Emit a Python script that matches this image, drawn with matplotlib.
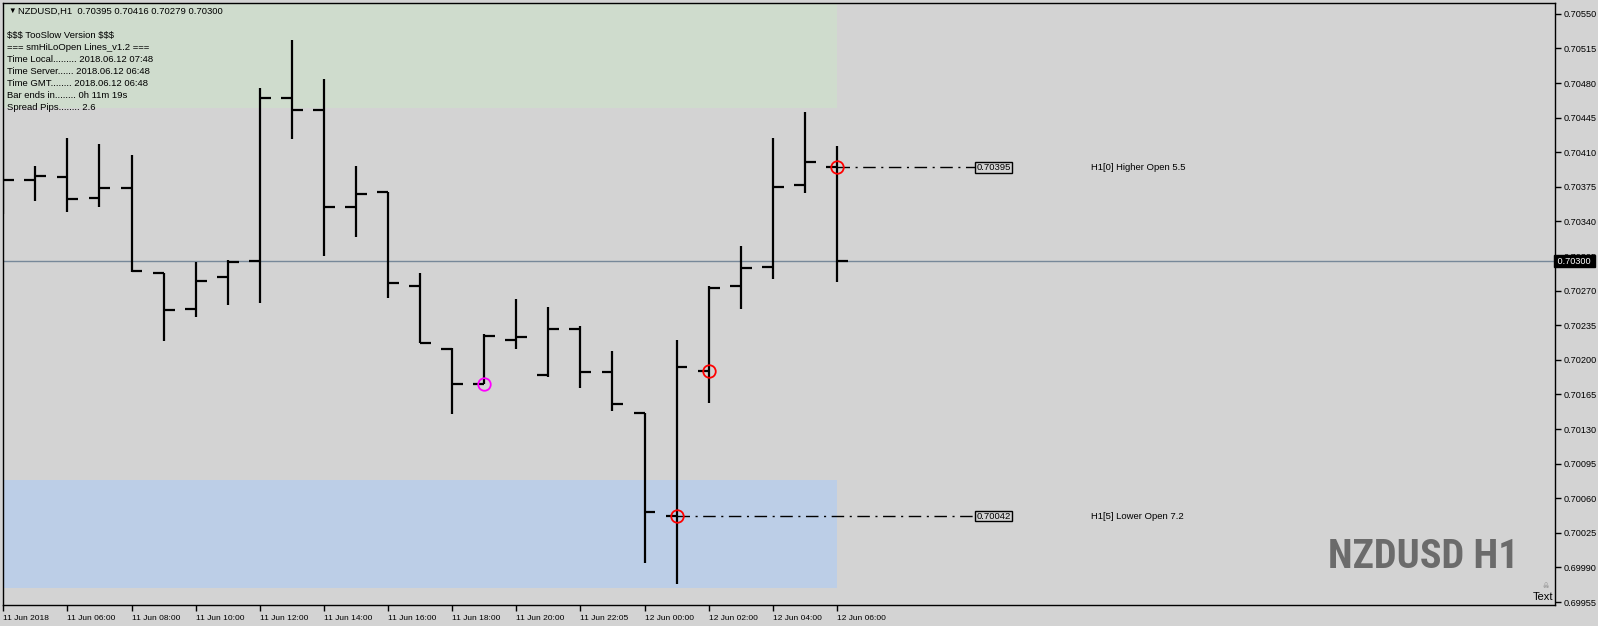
import matplotlib
matplotlib.use("Agg")
import matplotlib.pyplot as plt

plt.rcParams["text.parse_math"] = False

# hourly bars NZDUSD H1, 11 Jun 04:00 .. 12 Jun 06:00
opens  = [0.70390, 0.70382, 0.70385, 0.70364, 0.70374, 0.70288, 0.70251, 0.70284, 0.70300,
          0.70465, 0.70453, 0.70355, 0.70370, 0.70275, 0.70211, 0.70176, 0.70220, 0.70185,
          0.70231, 0.70188, 0.70146, 0.70042, 0.70189, 0.70275, 0.70294, 0.70377, 0.70395]
highs  = [0.70422, 0.70396, 0.70424, 0.70418, 0.70407, 0.70288, 0.70299, 0.70301, 0.70475,
          0.70524, 0.70484, 0.70396, 0.70370, 0.70288, 0.70212, 0.70226, 0.70262, 0.70253,
          0.70234, 0.70209, 0.70146, 0.70220, 0.70275, 0.70315, 0.70424, 0.70451, 0.70416]
lows   = [0.70348, 0.70361, 0.70350, 0.70355, 0.70289, 0.70219, 0.70243, 0.70255, 0.70258,
          0.70423, 0.70305, 0.70324, 0.70263, 0.70217, 0.70145, 0.70176, 0.70211, 0.70183,
          0.70172, 0.70148, 0.69994, 0.69973, 0.70156, 0.70251, 0.70282, 0.70369, 0.70279]
closes = [0.70382, 0.70386, 0.70363, 0.70374, 0.70290, 0.70250, 0.70280, 0.70299, 0.70465,
          0.70453, 0.70355, 0.70368, 0.70278, 0.70217, 0.70176, 0.70224, 0.70223, 0.70231,
          0.70188, 0.70155, 0.70046, 0.70193, 0.70273, 0.70293, 0.70375, 0.70400, 0.70300]

time_labels = ["11 Jun 2018", "11 Jun 06:00", "11 Jun 08:00", "11 Jun 10:00", "11 Jun 12:00",
               "11 Jun 14:00", "11 Jun 16:00", "11 Jun 18:00", "11 Jun 20:00", "11 Jun 22:05",
               "12 Jun 00:00", "12 Jun 02:00", "12 Jun 04:00", "12 Jun 06:00"]
price_ticks = [0.69955, 0.69990, 0.70025, 0.70060, 0.70095, 0.70130, 0.70165, 0.70200, 0.70235,
               0.70270, 0.70305, 0.70340, 0.70375, 0.70410, 0.70445, 0.70480, 0.70515, 0.70550]

bid = 0.70300
hi_zone = (0.70455, 0.70600)
lo_zone = (0.69969, 0.70078)
red_marks = [21, 22, 26]
magenta_marks = [15]
higher_open_bar, lower_open_bar = 26, 21
higher_open_txt = "H1[0] Higher Open 5.5"
lower_open_txt = "H1[5] Lower Open 7.2"

info_lines = ["$$$ TooSlow Version $$$",
              "=== smHiLoOpen Lines_v1.2 ===",
              "Time Local......... 2018.06.12 07:48",
              "Time Server...... 2018.06.12 06:48",
              "Time GMT........ 2018.06.12 06:48",
              "Bar ends in........ 0h 11m 19s",
              "Spread Pips........ 2.6"]

W, H = 1598, 626
BG = "#d3d3d3"
font = ["Liberation Sans", "DejaVu Sans"]

fig = plt.figure(figsize=(W / 100, H / 100), dpi=100, facecolor=BG)
ax = fig.add_axes([3 / W, 1 - 605 / H, (1555 - 3) / W, (605 - 3) / H], facecolor=BG)

def fx(px):
    return px / W

def fy(py):
    return 1 - py / H

x = list(range(len(opens)))
last = x[-1]
tick = 0.34

# zones
ax.fill_between([-1, last], hi_zone[0], hi_zone[1], color="#cfdccd", lw=0, zorder=0)
ax.fill_between([-1, last], lo_zone[0], lo_zone[1], color="#bccee7", lw=0, zorder=0)

# bid line
ax.axhline(bid, color="#778899", lw=1, zorder=1)

# OHLC bars
ax.vlines(x, lows, highs, color="black", lw=1.6, capstyle="butt", zorder=3)
ax.hlines(opens, [i - tick for i in x], x, color="black", lw=1.6, zorder=3)
ax.hlines(closes, x, [i + tick for i in x], color="black", lw=1.6, zorder=3)

# open lines + labels
box_x = 30.3
for b, txt in [(higher_open_bar, higher_open_txt), (lower_open_bar, lower_open_txt)]:
    ax.hlines(opens[b], b, box_x, color="black", lw=1, linestyles=[(0, (9, 4, 1.5, 4))], zorder=2)
    ax.text(box_x + 0.05, opens[b], "%.5f" % opens[b], fontsize=6.8, family=font,
            va="center", ha="left", zorder=4,
            bbox=dict(boxstyle="square,pad=0.1", fc="none", ec="black", lw=1))
    ax.text(33.93, opens[b], txt, fontsize=6.8, family=font, va="center", ha="left")

ax.plot([x[i] for i in red_marks], [opens[i] for i in red_marks], "o", mfc="none",
        mec="red", ms=9, mew=1.3, zorder=5)
ax.plot([x[i] for i in magenta_marks], [opens[i] for i in magenta_marks], "o", mfc="none",
        mec="magenta", ms=9, mew=1.3, zorder=5)

ax.set_xlim(-0.01, 48.40)
ax.set_ylim(0.69952, 0.70561)

ax.yaxis.tick_right()
ax.set_yticks(price_ticks)
ax.set_yticklabels(["%.5f" % p for p in price_ticks], fontsize=6.6, family=font)
ax.tick_params(axis="y", length=4, width=1, pad=2, direction="out")

ax.set_xticks(x[::2])
ax.set_xticklabels(time_labels, fontsize=6.0, family=font, ha="left")
ax.tick_params(axis="x", length=4, width=1, pad=3, direction="out")

for s in ax.spines.values():
    s.set_color("black")
    s.set_linewidth(1)

# bid label on the price scale
ax.text(1.0, bid, " %.5f " % bid, transform=ax.get_yaxis_transform(), fontsize=6.6,
        family=font, color="white", va="center", ha="left", clip_on=False, zorder=10,
        bbox=dict(boxstyle="square,pad=0.15", fc="black", ec="black"))

# header and info block
fig.text(fx(8), fy(11), "\u25bc", fontsize=5.5, family=font, va="center", ha="left")
fig.text(fx(18), fy(11), "NZDUSD,H1  0.70395 0.70416 0.70279 0.70300", fontsize=6.8,
         family=font, va="center", ha="left")
for k, line in enumerate(info_lines):
    fig.text(fx(7), fy(35.7 + 12 * k), line, fontsize=6.8, family=font, va="center", ha="left")

fig.text(fx(1519), fy(568), "NZDUSD H1", fontsize=29, fontweight="bold",
         family=["Roboto Condensed", "DejaVu Sans"], fontstretch="condensed",
         color="#6b6b6b", ha="right", va="baseline")
fig.text(fx(1553), fy(597), "Text", fontsize=8, family=font, ha="right", va="center")
fig.text(fx(1546), fy(586), "\u2620", fontsize=5, family="DejaVu Sans", color="#808080",
         ha="center", va="center")

fig.savefig("out.png", dpi=100, facecolor=BG)
